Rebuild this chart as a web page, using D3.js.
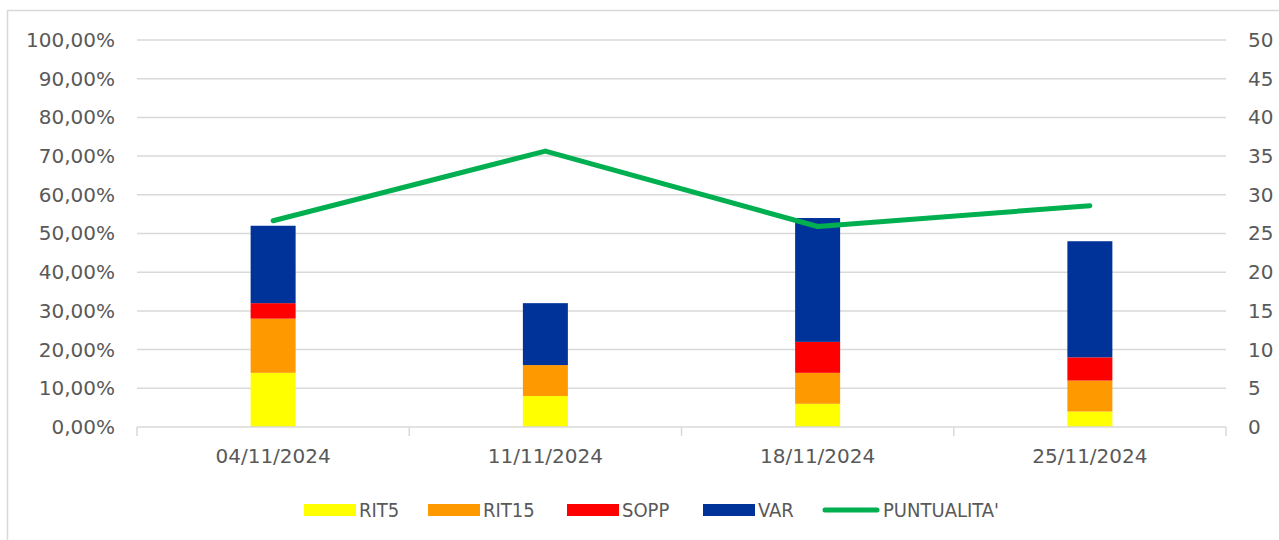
<!DOCTYPE html>
<html>
<head>
<meta charset="utf-8">
<script src="https://cdn.jsdelivr.net/npm/d3@7"></script>
<style>
  body { margin: 0; background: #fff; }
  text { font-family: "DejaVu Sans", sans-serif; fill: #595959; }
</style>
</head>
<body>
<div id="chart"></div>
<script>
var w = 1279;
var h = 540;

// data
var weeks = ["04/11/2024", "11/11/2024", "18/11/2024", "25/11/2024"];
var rit5 = [7, 4, 3, 2];
var rit15 = [7, 4, 4, 4];
var sopp = [2, 0, 4, 3];
var varr = [10, 8, 16, 15];
var puntualita = [53.3, 71.3, 51.8, 57.2];
var leftTicks = [0, 10, 20, 30, 40, 50, 60, 70, 80, 90, 100];
var rightTicks = [0, 5, 10, 15, 20, 25, 30, 35, 40, 45, 50];

var seriesNames = ["RIT5", "RIT15", "SOPP", "VAR"];
var colors = ["#ffff00", "#ff9900", "#ff0000", "#003399"];
var lineColor = "#00b050";

var plotLeft = 137, plotRight = 1226, plotTop = 40, plotBottom = 427;

const svg = d3.select("#chart")
  .append("svg")
  .attr("width", w)
  .attr("height", h);

// outer frame
svg.append("rect")
  .attr("x", 7.5).attr("y", 10.5)
  .attr("width", 1300).attr("height", 600)
  .attr("fill", "none")
  .attr("stroke", "#d9d9d9")
  .attr("stroke-width", 1.5);

var xScale = d3.scaleBand()
  .domain(weeks)
  .range([plotLeft, plotRight]);

var yLeft = d3.scaleLinear().domain([0, 100]).range([plotBottom, plotTop]);
var yRight = d3.scaleLinear().domain([0, 50]).range([plotBottom, plotTop]);

// gridlines
svg.append("g")
  .selectAll("line")
  .data(leftTicks.slice(1))
  .enter()
  .append("line")
  .attr("x1", plotLeft).attr("x2", plotRight)
  .attr("y1", d => yLeft(d)).attr("y2", d => yLeft(d))
  .attr("stroke", "#d9d9d9")
  .attr("stroke-width", 1.5);

// left axis
var yAxisL = d3.axisLeft(yLeft)
  .tickValues(leftTicks)
  .tickSize(0)
  .tickPadding(22)
  .tickFormat(d => d3.format(".2f")(d).replace(".", ",") + "%");
svg.append("g")
  .attr("transform", "translate(" + plotLeft + ",0)")
  .call(yAxisL)
  .call(g => g.select(".domain").remove())
  .selectAll("text")
  .style("font-size", "20px")
  .attr("fill", "#595959");

// right axis
var yAxisR = d3.axisRight(yRight)
  .tickValues(rightTicks)
  .tickSize(0)
  .tickPadding(22);
svg.append("g")
  .attr("transform", "translate(" + plotRight + ",0)")
  .call(yAxisR)
  .call(g => g.select(".domain").remove())
  .selectAll("text")
  .style("font-size", "20px")
  .attr("fill", "#595959");

// stacked bars
var table = weeks.map(function(d, i) {
  return { week: d, RIT5: rit5[i], RIT15: rit15[i], SOPP: sopp[i], VAR: varr[i] };
});
var stacked = d3.stack().keys(seriesNames)(table);
var barWidth = 45;

svg.append("g")
  .selectAll("g")
  .data(stacked)
  .enter()
  .append("g")
  .attr("fill", (d, i) => colors[i])
  .selectAll("rect")
  .data(d => d)
  .enter()
  .append("rect")
  .attr("x", d => xScale(d.data.week) + xScale.bandwidth() / 2 - barWidth / 2)
  .attr("y", d => yRight(d[1]))
  .attr("width", barWidth)
  .attr("height", d => yRight(d[0]) - yRight(d[1]));

// x axis
var xAxis = d3.axisBottom(xScale).tickSize(0).tickPadding(22);
var xg = svg.append("g")
  .attr("transform", "translate(0," + plotBottom + ")")
  .call(xAxis);
xg.select(".domain").attr("stroke", "#d9d9d9").attr("stroke-width", 1.5)
  .attr("d", "M" + plotLeft + ",0H" + plotRight);
xg.selectAll("text").style("font-size", "20px").attr("fill", "#595959");
xg.append("g")
  .selectAll("line")
  .data(weeks.concat(["end"]))
  .enter()
  .append("line")
  .attr("x1", (d, i) => plotLeft + i * xScale.step())
  .attr("x2", (d, i) => plotLeft + i * xScale.step())
  .attr("y1", 0).attr("y2", 9)
  .attr("stroke", "#d9d9d9")
  .attr("stroke-width", 1.5);

// puntualita line
var line = d3.line()
  .x((d, i) => xScale(weeks[i]) + xScale.bandwidth() / 2)
  .y(d => yLeft(d));
svg.append("path")
  .datum(puntualita)
  .attr("d", line)
  .attr("fill", "none")
  .attr("stroke", lineColor)
  .attr("stroke-width", 5)
  .attr("stroke-linecap", "round")
  .attr("stroke-linejoin", "round");

// legend
var legendItems = seriesNames.map((n, i) => ({ name: n, color: colors[i], type: "rect" }))
  .concat([{ name: "PUNTUALITA'", color: lineColor, type: "line" }]);
var legendX = [304, 428, 567, 703, 823];
var ly = 510;
var legend = svg.append("g");
legendItems.forEach(function(item, i) {
  var lx = legendX[i];
  var g = legend.append("g");
  if (item.type === "rect") {
    g.append("rect").attr("x", lx).attr("y", ly - 6).attr("width", 52).attr("height", 12).attr("fill", item.color);
  } else {
    g.append("line").attr("x1", lx + 2).attr("x2", lx + 54).attr("y1", ly).attr("y2", ly)
      .attr("stroke", item.color).attr("stroke-width", 5).attr("stroke-linecap", "round");
  }
  g.append("text")
    .attr("x", lx + (item.type === "rect" ? 55 : 60))
    .attr("y", ly)
    .attr("dy", "0.36em")
    .style("font-family", "'DejaVu Sans Condensed', 'DejaVu Sans', sans-serif")
    .style("font-size", "20px")
    .text(item.name);
});
</script>
</body>
</html>
